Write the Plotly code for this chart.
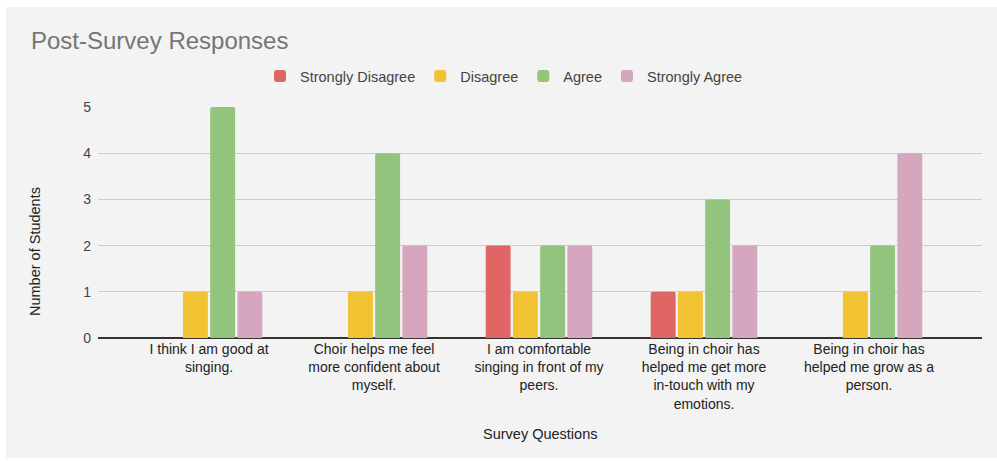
import plotly.graph_objects as go

questions = [
    "I think I am good at<br>singing.",
    "Choir helps me feel<br>more confident about<br>myself.",
    "I am comfortable<br>singing in front of my<br>peers.",
    "Being in choir has<br>helped me get more<br>in-touch with my<br>emotions.",
    "Being in choir has<br>helped me grow as a<br>person.",
]
strongly_disagree = [0, 0, 2, 1, 0]
disagree = [1, 1, 1, 1, 1]
agree = [5, 4, 2, 3, 2]
strongly_agree = [1, 2, 2, 2, 4]

series = [
    ("Strongly Disagree", strongly_disagree, "#e06666"),
    ("Disagree", disagree, "#f1c232"),
    ("Agree", agree, "#93c47d"),
    ("Strongly Agree", strongly_agree, "#d5a6bd"),
]

W, H = 997, 461
L, R, T, B = 98, 15, 107, 123
pw, ph = W - L - R, H - T - B

def px_x(x):
    return (x - L) / pw

def px_y(y):
    return (H - B - y) / ph

FONT = "Liberation Sans, Arial, sans-serif"

fig = go.Figure()
for name, vals, color in series:
    fig.add_trace(go.Bar(
        name=name, x=questions, y=vals,
        marker=dict(color=color, line=dict(width=0), cornerradius=2),
    ))

fig.update_layout(
    width=W, height=H,
    margin=dict(l=L, r=R, t=T, b=B, pad=0),
    paper_bgcolor="white",
    plot_bgcolor="rgba(0,0,0,0)",
    font=dict(family=FONT, size=14, color="#222222"),
    barmode="group",
    bargap=0.34,
    bargroupgap=0.085,
    showlegend=True,
    legend=dict(
        orientation="h", x=px_x(504), xanchor="center",
        y=px_y(76), yanchor="middle",
        font=dict(size=14.5, color="#444444"),
        bgcolor="rgba(0,0,0,0)", itemwidth=30,
    ),
    xaxis=dict(
        type="category", range=[-0.673, 4.685],
        showgrid=False, ticks="", showline=False, zeroline=False,
        tickfont=dict(size=14, color="#222222"),
        ticklabelstandoff=1,
    ),
    yaxis=dict(
        range=[0, 5], dtick=1, tick0=0,
        showgrid=True, gridcolor="#cccccc", gridwidth=1,
        zeroline=True, zerolinecolor="#333333", zerolinewidth=1.5,
        ticks="", showline=False,
        tickfont=dict(size=14, color="#444444"),
        ticklabelstandoff=6,
    ),
    shapes=[dict(
        type="rect", xref="paper", yref="paper",
        x0=px_x(6), x1=px_x(997), y0=px_y(458), y1=px_y(7),
        fillcolor="#f3f3f3", line=dict(width=0), layer="below",
    )],
    annotations=[
        dict(text="Post-Survey Responses", xref="paper", yref="paper",
             x=px_x(29), y=px_y(41), xanchor="left", yanchor="middle",
             showarrow=False, font=dict(size=24, color="#757575")),
        dict(text="Number of Students", xref="paper", yref="paper",
             x=px_x(35), y=px_y(252), xanchor="center", yanchor="middle",
             textangle=-90, showarrow=False,
             font=dict(size=14.5, color="#222222")),
        dict(text="Survey Questions", xref="paper", yref="paper",
             x=px_x(540), y=px_y(434), xanchor="center", yanchor="middle",
             showarrow=False, font=dict(size=14.5, color="#222222")),
    ],
)

fig.write_html("out.html")
